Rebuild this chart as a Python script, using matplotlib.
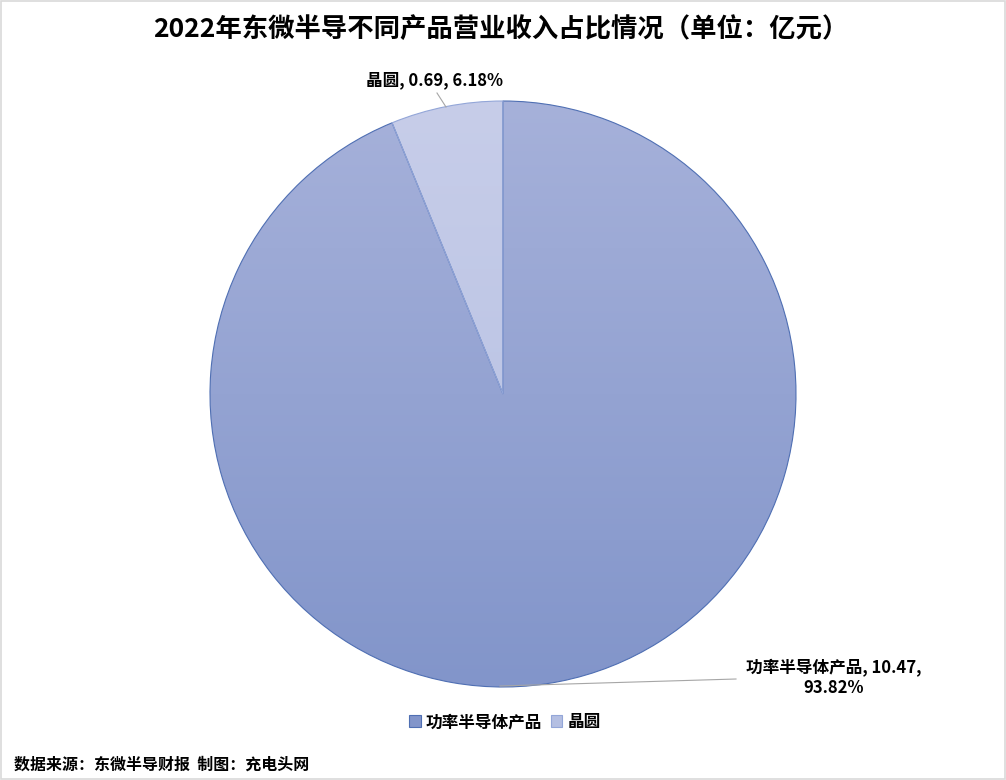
import numpy as np
import matplotlib.pyplot as plt
from matplotlib.colors import to_rgb
from matplotlib.patches import Rectangle

plt.rcParams['font.family'] = ['Noto Sans CJK SC', 'DejaVu Sans']

# data
categories = ['功率半导体产品', '晶圆']
revenue = [10.47, 0.69]
shares = ['93.82%', '6.18%']
title = '2022年东微半导不同产品营业收入占比情况（单位：亿元）'
footer = '数据来源：东微半导财报  制图：充电头网'

top_colors = ['#a6b1da', '#c7cde9']
bottom_colors = ['#8295ca', '#b4bfe2']
edge_colors = ['#4f6fb3', '#93a6d8']

W, H = 1006, 780
fig = plt.figure(figsize=(W / 100, H / 100), dpi=100)
fig.patch.set_facecolor('white')
fig.add_artist(Rectangle((0.001, 0.001), 0.998, 0.998, transform=fig.transFigure,
                         fill=False, edgecolor='#d9d9d9', linewidth=1.2))

# square axes centred on the pie
cx, cy, half = 503, 394, 300
ax = fig.add_axes([(cx - half) / W, (H - cy - half) / H, 2 * half / W, 2 * half / H])
ax.axis('off')

r = 293 / 300
wedges, _ = ax.pie(revenue, radius=r, startangle=90, counterclock=False,
                   wedgeprops=dict(linewidth=0.8))

# vertical gradient inside each wedge
for w, c0, c1, ec in zip(wedges, top_colors, bottom_colors, edge_colors):
    w.set_facecolor('none')
    w.set_edgecolor(ec)
    a = np.array(to_rgb(c0))
    b = np.array(to_rgb(c1))
    t = np.linspace(0, 1, 256)[:, None]
    grad = (a[None, :] * (1 - t) + b[None, :] * t)[:, None, :]
    im = ax.imshow(grad, extent=[-r, r, -r, r], origin='upper', aspect='auto', zorder=0.5)
    im.set_clip_path(w)
    w.set_zorder(1)

ax.set_xlim(-1, 1)
ax.set_ylim(-1, 1)

def to_ax(px, py):
    return ((px - cx) / half, (cy - py) / half)

# leader lines
ax.plot(*zip(to_ax(446, 107), to_ax(437, 93)), color='#a6a6a6', lw=0.8, clip_on=False)
ax.plot(*zip(to_ax(500, 686), to_ax(736, 679)), color='#a6a6a6', lw=0.8, clip_on=False)

# data labels
fig.text(434 / W, 1 - 80 / H, f'{categories[1]}, {revenue[1]}, {shares[1]}',
         ha='center', va='center', fontsize=12, fontweight='bold')
fig.text(834 / W, 1 - 678 / H, f'{categories[0]}, {revenue[0]},\n{shares[0]}',
         ha='center', va='center', fontsize=12, fontweight='bold', linespacing=1.1)

fig.text(501 / W, 1 - 29 / H, title, ha='center', va='center',
         fontsize=19, fontweight='bold')

# legend
handles = [Rectangle((0, 0), 1, 1, facecolor=c, edgecolor=e, lw=0.8)
           for c, e in zip(bottom_colors, edge_colors)]
fig.legend(handles, categories, loc='center', bbox_to_anchor=(505 / W, 1 - 722 / H),
           ncol=2, frameon=False, prop=dict(size=12, weight='bold'),
           handlelength=0.7, handleheight=0.7, handletextpad=0.3, columnspacing=0.5)

fig.text(14 / W, 1 - 765 / H, footer, ha='left', va='center',
         fontsize=11.5, fontweight='bold')

fig.savefig('out.png', dpi=100, facecolor='white')
